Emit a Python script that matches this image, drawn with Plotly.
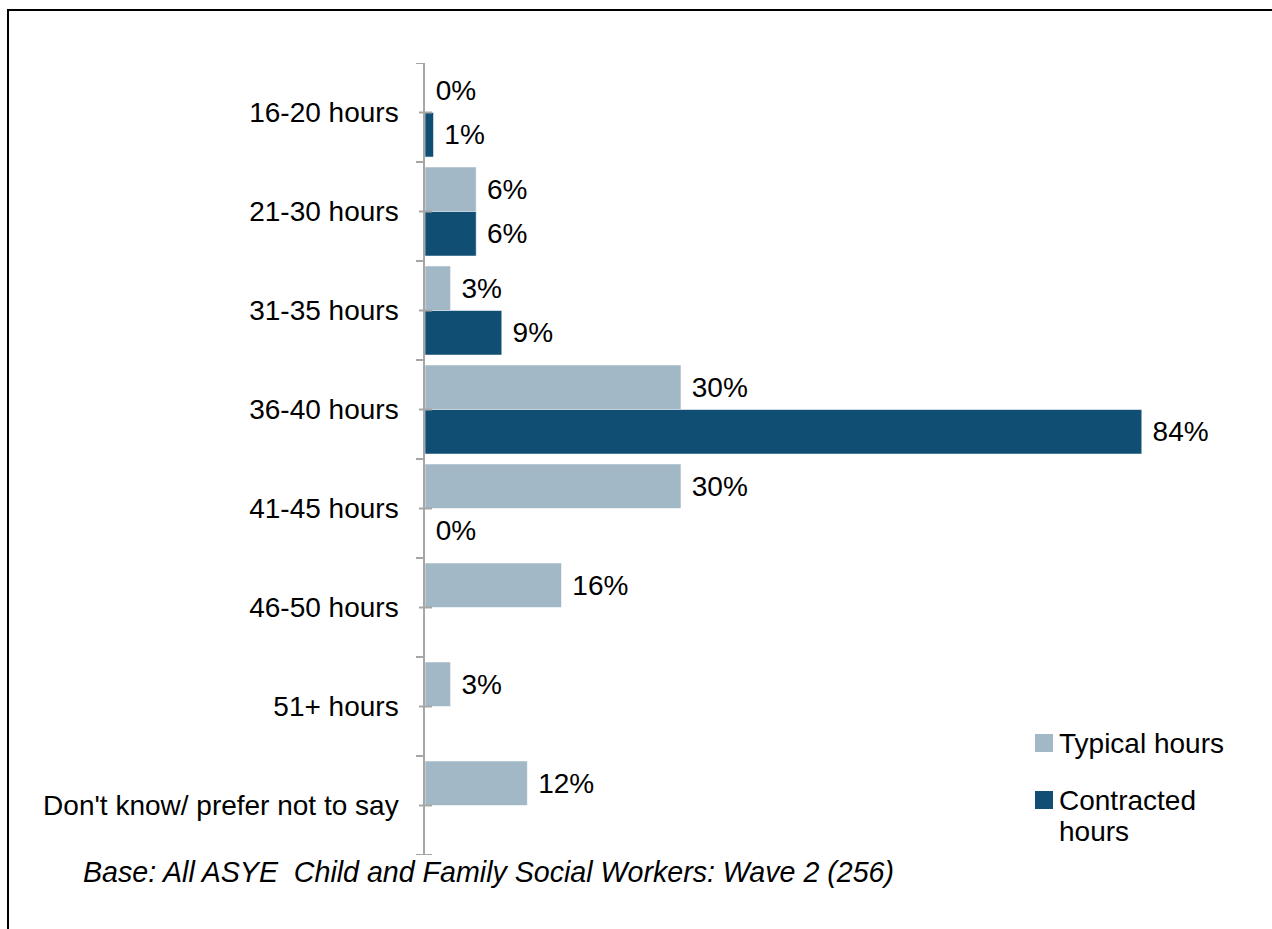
import plotly.graph_objects as go

# Weekly hours bands and the share of respondents in each
categories = ["16-20 hours", "21-30 hours", "31-35 hours", "36-40 hours",
              "41-45 hours", "46-50 hours", "51+ hours", "Don't know/ prefer not to say"]
typical_hours = [0, 6, 3, 30, 30, 16, 3, 12]
contracted_hours = [1, 6, 9, 84, 0, None, None, None]
series_names = ["Typical hours", "Contracted hours"]
footnote = "Base: All ASYE  Child and Family Social Workers: Wave 2 (256)"

LIGHT = "#a3b8c7"
DARK = "#104e73"
AXIS_GREY = "#a6a6a6"
FONT = "Liberation Sans, Arial, sans-serif"

W, H = 1272, 929
L, R, T, B = 425, 1193, 63, 855  # plot area in pixels
PW, PH = R - L, B - T


def px_x(p):
    return (p - L) / PW


def px_y(p):
    return (B - p) / PH


def labels(vals):
    return [None if v is None else f" {v}%" for v in vals]


fig = go.Figure()
for name, vals, col in [(series_names[0], typical_hours, LIGHT),
                        (series_names[1], contracted_hours, DARK)]:
    fig.add_trace(go.Bar(
        y=categories, x=vals, name=name, orientation="h",
        marker=dict(color=col, line=dict(color="rgba(255,255,255,0.55)", width=1)),
        text=labels(vals), textposition="outside", cliponaxis=False,
        constraintext="none",
        textfont=dict(family=FONT, size=28, color="black"),
        hoverinfo="skip",
    ))

shapes = []
n = len(categories)
# ticks at category boundaries (outside) and at category centres (crossing)
for i in range(n + 1):
    x1 = px_x(432) if i == n else 0
    shapes.append(dict(type="line", xref="paper", yref="y",
                       x0=px_x(416), x1=x1, y0=i - 0.5, y1=i - 0.5,
                       line=dict(color=AXIS_GREY, width=2)))
for i in range(n):
    shapes.append(dict(type="line", xref="paper", yref="y",
                       x0=px_x(419), x1=px_x(432), y0=i, y1=i,
                       line=dict(color=AXIS_GREY, width=2)))

# legend swatches
shapes.append(dict(type="rect", xref="paper", yref="paper",
                   x0=px_x(1035), x1=px_x(1053), y0=px_y(752), y1=px_y(734),
                   fillcolor=LIGHT, line=dict(width=0)))
shapes.append(dict(type="rect", xref="paper", yref="paper",
                   x0=px_x(1035), x1=px_x(1053), y0=px_y(809), y1=px_y(791),
                   fillcolor=DARK, line=dict(width=0)))

# outer frame
shapes.append(dict(type="rect", xref="paper", yref="paper",
                   x0=px_x(8), x1=px_x(1290), y0=px_y(950), y1=px_y(10),
                   line=dict(color="black", width=2), fillcolor="rgba(0,0,0,0)"))

annotations = [
    dict(xref="paper", yref="paper", x=px_x(1057), y=px_y(743), text=series_names[0],
         xanchor="left", yanchor="middle", showarrow=False,
         font=dict(family=FONT, size=28, color="black")),
    dict(xref="paper", yref="paper", x=px_x(1057), y=px_y(800), text="Contracted",
         xanchor="left", yanchor="middle", showarrow=False,
         font=dict(family=FONT, size=28, color="black")),
    dict(xref="paper", yref="paper", x=px_x(1057), y=px_y(831), text="hours",
         xanchor="left", yanchor="middle", showarrow=False,
         font=dict(family=FONT, size=28, color="black")),
    dict(xref="paper", yref="paper", x=px_x(81), y=px_y(872), text=f"<i>{footnote}</i>",
         xanchor="left", yanchor="middle", showarrow=False,
         font=dict(family=FONT, size=28.6, color="black")),
]

fig.update_layout(
    width=W, height=H,
    margin=dict(l=L, r=W - R, t=T, b=H - B, pad=0),
    paper_bgcolor="white", plot_bgcolor="white",
    barmode="group", bargap=0.1, bargroupgap=0,
    showlegend=False,
    font=dict(family=FONT, size=28, color="black"),
    xaxis=dict(range=[0, 90], visible=False, fixedrange=True),
    yaxis=dict(type="category", categoryorder="array", categoryarray=categories,
               range=[n - 0.5, -0.5], showline=True, linecolor=AXIS_GREY, linewidth=1.5,
               ticks="", showgrid=False, zeroline=False, ticklabelstandoff=19,
               tickfont=dict(family=FONT, size=28, color="black"), fixedrange=True),
    shapes=shapes, annotations=annotations,
)

fig.write_html("out.html")
